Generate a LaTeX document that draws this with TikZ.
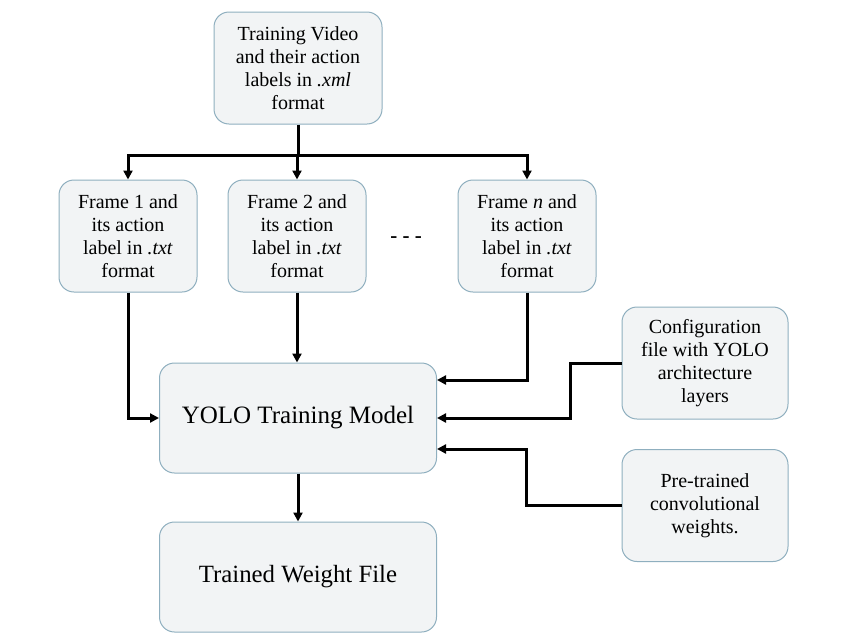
\documentclass[tikz,border=0pt]{standalone}
\usepackage{fontspec}
\setmainfont{Liberation Serif}
\usetikzlibrary{arrows.meta}
\definecolor{boxfill}{HTML}{F2F4F5}
\definecolor{boxline}{HTML}{8FAFBF}
\begin{document}
\begin{tikzpicture}[x=1pt,y=-1pt,
  box/.style={draw=boxline, fill=boxfill, line width=1pt, rounded corners=15pt,
    inner sep=0pt, align=center, font=\fontsize{20}{23}\selectfont},
  conn/.style={line width=3pt, -{Triangle[length=9pt,width=9pt]}},
  plain/.style={line width=3pt}]
\useasboundingbox (0,0) rectangle (850,632);
\node[box, minimum width=168pt, minimum height=112pt] (top) at (298,68)
  {Training Video\\and their action\\labels in \textit{.xml}\\format};
\node[box, minimum width=138pt, minimum height=112pt] (f1) at (128,236)
  {Frame 1 and\\its action\\label in \textit{.txt}\\format};
\node[box, minimum width=138pt, minimum height=112pt] (f2) at (297,236)
  {Frame 2 and\\its action\\label in \textit{.txt}\\format};
\node[box, minimum width=138pt, minimum height=112pt] (fn) at (527,236)
  {Frame \textit{n} and\\its action\\label in \textit{.txt}\\format};
\node[font=\fontsize{21}{24}\selectfont\bfseries] (dots) at (406,240) {- - -};
\node[box, minimum width=277pt, minimum height=110pt, font=\fontsize{25}{30}\selectfont] (yolo) at (298,418)
  {YOLO Training Model};
\node[box, minimum width=277pt, minimum height=110pt, font=\fontsize{24.8}{30}\selectfont] (trained) at (298,577)
  {Trained Weight File};
\node[box, minimum width=166pt, minimum height=112pt] (cfg) at (705,363)
  {Configuration\\file with YOLO\\architecture\\layers};
\node[box, minimum width=166pt, minimum height=112pt] (pre) at (705,505.5)
  {Pre-trained\\convolutional\\weights.};
\draw[plain] (top.south) -- ++(0,31) coordinate (split);
\draw[conn] (split) -| (f1.north);
\draw[conn] (split) -| (fn.north);
\draw[conn] (split -| f2.north) -- (f2.north);
\draw[conn] (f1.south) |- (yolo.west);
\draw[conn] (f2.south) -- (yolo.north -| f2.south);
\draw[conn] (fn.south) |- ([yshift=38pt]yolo.east);
\draw[conn] (cfg.west) -- ++(-51,0) |- (yolo.east);
\draw[conn] (pre.west) -- ++(-95,0) |- ([yshift=-31pt]yolo.east);
\draw[conn] (yolo.south) -- (trained.north);
\end{tikzpicture}
\end{document}
